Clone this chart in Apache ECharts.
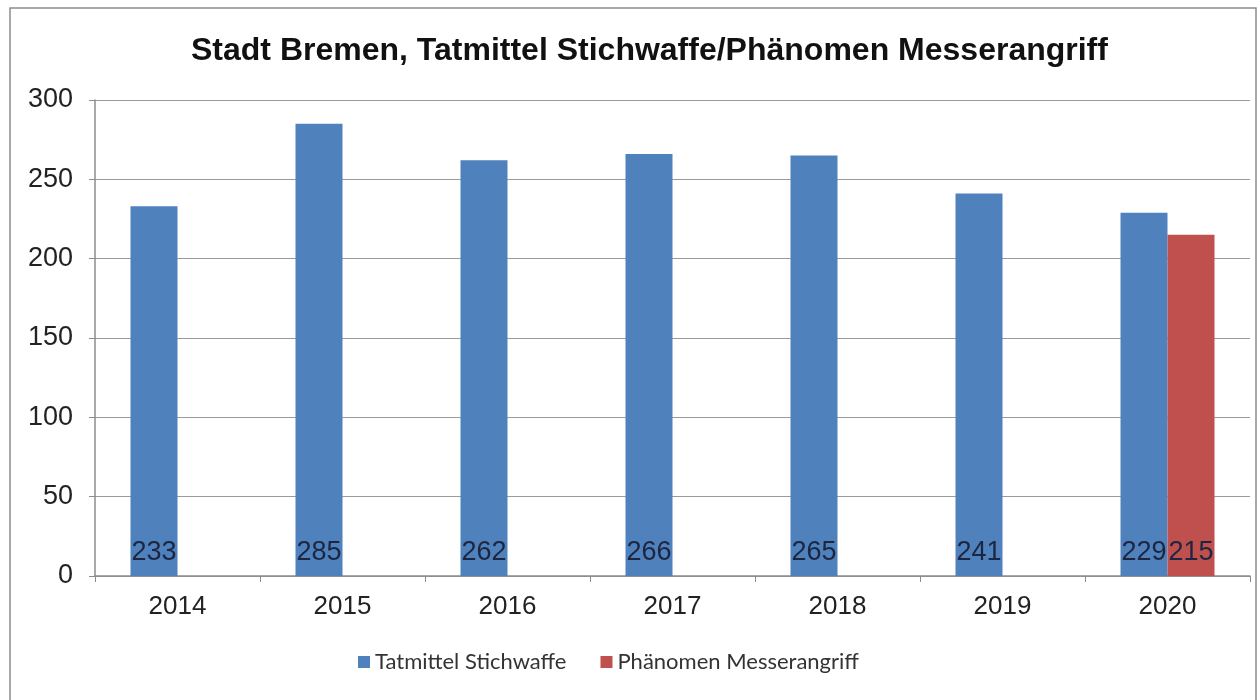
<!DOCTYPE html>
<html>
<head>
<meta charset="utf-8">
<script src="https://cdn.jsdelivr.net/npm/echarts@6/dist/echarts.min.js"></script>
<style>
html,body{margin:0;padding:0;background:#fff;}
#chart{width:1260px;height:700px;}
</style>
</head>
<body>
<div id="chart"></div>
<script>
var years = ['2014', '2015', '2016', '2017', '2018', '2019', '2020'];
var stichwaffe = [233, 285, 262, 266, 265, 241, 229];
var messerangriff = [null, null, null, null, null, null, 215];
var seriesNames = ['Tatmittel Stichwaffe', 'Phänomen Messerangriff'];

var labelStyle = {
    show: true,
    position: 'insideBottom',
    distance: 10,
    fontFamily: 'Liberation Sans, Arial',
    fontSize: 27,
    color: '#1c2640'
};

var myChart = echarts.init(document.getElementById('chart'));
myChart.setOption({
    backgroundColor: '#fff',
    animation: false,
    title: {
        text: 'Stadt Bremen, Tatmittel Stichwaffe/Phänomen Messerangriff',
        left: 186,
        top: 30,
        textStyle: {
            fontFamily: 'Liberation Sans, Arial',
            fontWeight: 'bold',
            fontSize: 32,
            color: '#111'
        }
    },
    graphic: [{
        type: 'rect',
        shape: { x: 10, y: 8, width: 1246, height: 700 },
        style: { fill: 'none', stroke: '#8c8c8c', lineWidth: 1.5 },
        silent: true
    }],
    legend: {
        bottom: 22,
        left: 353,
        itemGap: 34,
        itemWidth: 12,
        itemHeight: 12,
        icon: 'rect',
        textStyle: {
            fontFamily: 'Lato, Open Sans',
            fontSize: 22,
            color: '#333'
        },
        data: seriesNames
    },
    grid: { left: 95, right: 10, top: 100, bottom: 124 },
    xAxis: {
        type: 'category',
        data: years,
        axisLine: { lineStyle: { color: '#8c8c8c', width: 1.5 } },
        axisTick: { show: true, length: 6, lineStyle: { color: '#8c8c8c' } },
        axisLabel: {
            margin: 18,
            fontFamily: 'Liberation Sans, Arial',
            fontSize: 26,
            color: '#222'
        }
    },
    yAxis: {
        type: 'value',
        min: 0,
        max: 300,
        interval: 50,
        axisLine: { show: true, lineStyle: { color: '#8c8c8c', width: 1.5 } },
        axisTick: { show: true, length: 6, lineStyle: { color: '#8c8c8c' } },
        splitLine: { lineStyle: { color: '#9a9a9a', width: 1.2 } },
        axisLabel: {
            margin: 22,
            fontFamily: 'Liberation Sans, Arial',
            fontSize: 27,
            color: '#222'
        }
    },
    series: [{
        name: seriesNames[0],
        type: 'bar',
        data: stichwaffe,
        barWidth: 47,
        barGap: '0%',
        itemStyle: { color: '#4f81bd' },
        label: labelStyle
    }, {
        name: seriesNames[1],
        type: 'bar',
        data: messerangriff,
        barWidth: 47,
        barGap: '0%',
        itemStyle: { color: '#c0504d' },
        label: labelStyle
    }]
});
</script>
</body>
</html>
